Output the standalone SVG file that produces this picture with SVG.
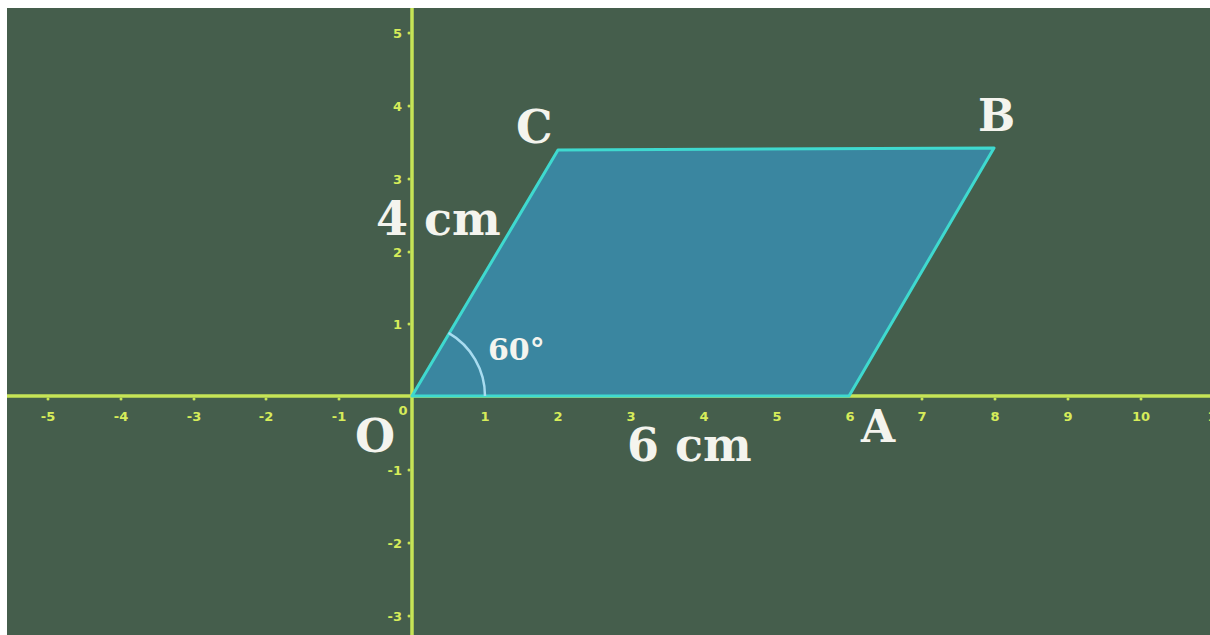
<svg xmlns="http://www.w3.org/2000/svg" width="1210" height="635" viewBox="0 0 1210 635">
<style>
.tk{font-family:"DejaVu Sans",sans-serif;font-size:13px;font-weight:bold;fill:#d6ec5a;text-anchor:middle}
.tky{font-family:"DejaVu Sans",sans-serif;font-size:13px;font-weight:bold;fill:#d6ec5a;text-anchor:end}
.lbl{font-family:"DejaVu Serif","Liberation Serif",serif;font-weight:bold;fill:#f4f4ee}
.ax{stroke:#c6e456;stroke-width:3.5;fill:none}
.dot{fill:#c6e456}
</style>
<rect width="1210" height="635" fill="#ffffff"/>
<rect x="7" y="8" width="1203" height="627" fill="#455e4c"/>
<g id="axes">
<line class="ax" x1="7" y1="396" x2="1210" y2="396"/>
<line class="ax" x1="412" y1="8" x2="412" y2="635"/>
</g>
<g id="ticks-x">
<text class="tk" x="48" y="421">-5</text>
<text class="tk" x="121" y="421">-4</text>
<text class="tk" x="194" y="421">-3</text>
<text class="tk" x="266" y="421">-2</text>
<text class="tk" x="339" y="421">-1</text>
<text class="tk" x="403" y="415">0</text>
<text class="tk" x="485" y="421">1</text>
<text class="tk" x="558" y="421">2</text>
<text class="tk" x="631" y="421">3</text>
<text class="tk" x="704" y="421">4</text>
<text class="tk" x="777" y="421">5</text>
<text class="tk" x="850" y="421">6</text>
<text class="tk" x="922" y="421">7</text>
<text class="tk" x="995" y="421">8</text>
<text class="tk" x="1141" y="421">10</text>
<text class="tk" x="1068" y="421">9</text>
<text class="tk" x="1212" y="421">1</text>
</g>
<g id="ticks-y">
<text class="tky" x="402" y="38">5</text>
<text class="tky" x="402" y="111">4</text>
<text class="tky" x="402" y="184">3</text>
<text class="tky" x="402" y="257">2</text>
<text class="tky" x="402" y="329">1</text>
<text class="tky" x="402" y="475">-1</text>
<text class="tky" x="402" y="548">-2</text>
<text class="tky" x="402" y="621">-3</text>
</g>
<g id="tick-dots">
<circle class="dot" cx="48" cy="399" r="1.5"/><circle class="dot" cx="121" cy="399" r="1.5"/><circle class="dot" cx="194" cy="399" r="1.5"/><circle class="dot" cx="266" cy="399" r="1.5"/><circle class="dot" cx="339" cy="399" r="1.5"/>
<circle class="dot" cx="922" cy="399" r="1.5"/><circle class="dot" cx="995" cy="399" r="1.5"/><circle class="dot" cx="1068" cy="399" r="1.5"/><circle class="dot" cx="1141" cy="399" r="1.5"/>
<circle class="dot" cx="409" cy="33" r="1.5"/><circle class="dot" cx="409" cy="106" r="1.5"/><circle class="dot" cx="409" cy="179" r="1.5"/><circle class="dot" cx="409" cy="252" r="1.5"/><circle class="dot" cx="409" cy="324" r="1.5"/>
<circle class="dot" cx="409" cy="470" r="1.5"/><circle class="dot" cx="409" cy="543" r="1.5"/><circle class="dot" cx="409" cy="616" r="1.5"/>
</g>
<g id="parallelogram">
<polygon points="412,396 849,396 994,148 558,150" fill="#3a86a0" stroke="#3fd9cf" stroke-width="3" stroke-linejoin="round"/>
</g>
<g id="angle">
<path d="M485,396 A73,73 0 0 0 448.5,332.8" fill="none" stroke="#a8dcf0" stroke-width="2.5"/>
<text class="lbl" x="488" y="360" font-size="30">60°</text>
</g>
<g id="labels">
<text class="lbl" x="516" y="143" font-size="46">C</text>
<text class="lbl" x="978" y="131" font-size="44">B</text>
<text class="lbl" x="355" y="452" font-size="46">O</text>
<text class="lbl" x="861" y="442" font-size="44">A</text>
<text class="lbl" x="376" y="235" font-size="46">4 cm</text>
<text class="lbl" x="627" y="461" font-size="46">6 cm</text>
</g>
</svg>
